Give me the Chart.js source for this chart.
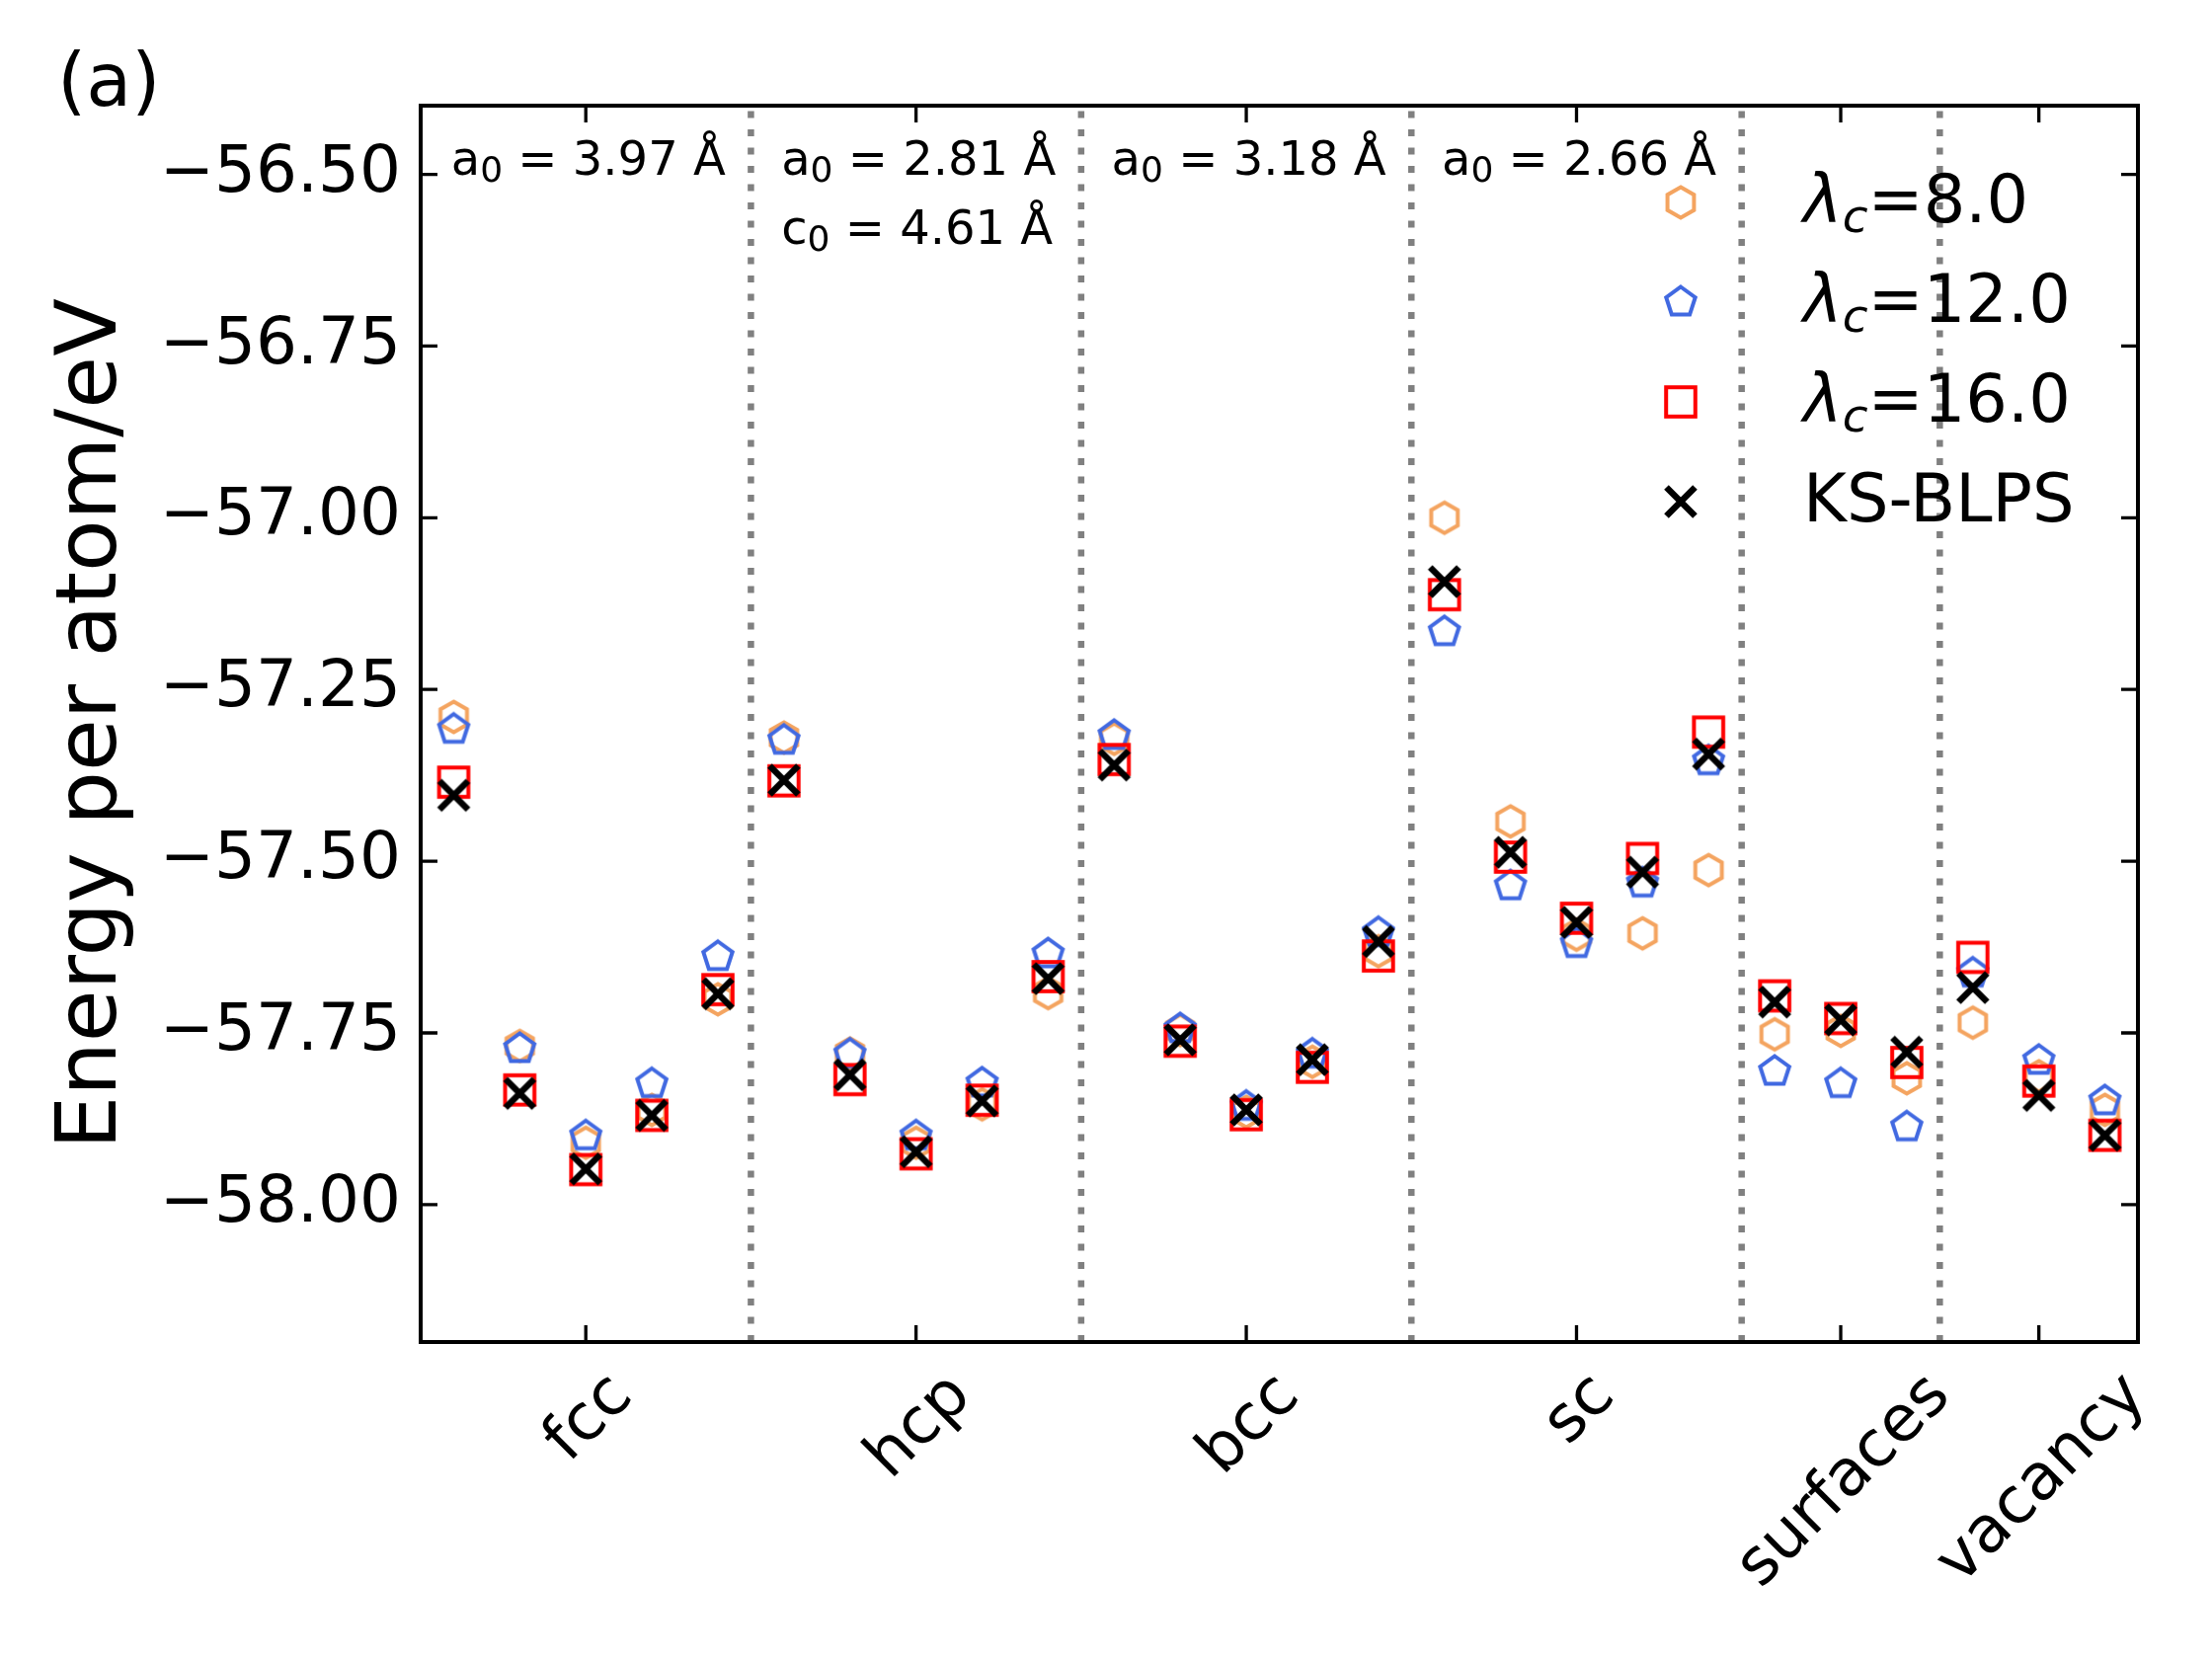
<!DOCTYPE html>
<html>
<head>
<meta charset="utf-8">
<script src="https://cdn.jsdelivr.net/npm/chart.js@4.4.1/dist/chart.umd.min.js"></script>
<style>
    html, body { margin: 0; padding: 0; background: #ffffff; }
    #chart { display: block; }
</style>
</head>
<body>
<canvas id="chart" width="2240" height="1680"></canvas>
<script>
// Категории по оси X и их положения
const structures = ['fcc', 'hcp', 'bcc', 'sc', 'surfaces', 'vacancy'];
const structureTicks = [2, 7, 12, 17, 21, 24];
const dividers = [4.5, 9.5, 14.5, 19.5, 22.5];
const yTicks = [-58.0, -57.75, -57.5, -57.25, -57.0, -56.75, -56.5];

// Параметры решётки над каждой группой
const latticeX = [-0.04, 4.96, 9.96, 14.96];
const latticeA = ['3.97', '2.81', '3.18', '2.66'];
const latticeC = ['', '4.61', '', ''];

// Энергии (эВ) для каждой точки 0..25
const lambda8 = [-57.290, -57.769, -57.910, -57.862, -57.701,
                 -57.320, -57.780, -57.910, -57.854, -57.692,
                 -57.322, -57.746, -57.865, -57.792, -57.631,
                 -57.000, -57.442, -57.607, -57.605, -57.513,
                 -57.752, -57.747, -57.816,
                 -57.735, -57.813, -57.862];
const lambda12 = [-57.308, -57.773, -57.900, -57.824, -57.639,
                  -57.324, -57.781, -57.900, -57.823, -57.635,
                  -57.317, -57.744, -57.857, -57.781, -57.604,
                  -57.166, -57.536, -57.620, -57.532, -57.354,
                  -57.806, -57.824, -57.887,
                  -57.663, -57.790, -57.849];
const lambda16 = [-57.385, -57.833, -57.949, -57.870, -57.687,
                  -57.383, -57.818, -57.926, -57.848, -57.668,
                  -57.352, -57.762, -57.869, -57.800, -57.638,
                  -57.112, -57.494, -57.583, -57.496, -57.312,
                  -57.696, -57.729, -57.793,
                  -57.640, -57.820, -57.899];
const ksBlps = [-57.404, -57.838, -57.948, -57.870, -57.693,
                -57.382, -57.811, -57.923, -57.849, -57.671,
                -57.360, -57.760, -57.862, -57.789, -57.617,
                -57.093, -57.487, -57.589, -57.516, -57.344,
                -57.705, -57.731, -57.778,
                -57.684, -57.841, -57.899];

const FONT = '"DejaVu Sans", "Liberation Sans", sans-serif';

function ToPoints(values)
{
    return values.map((v, i) => ({ x: i, y: v }));
}

function MakeMarker(kind, color)
{
    let c = document.createElement('canvas');
    c.width = 46;
    c.height = 46;
    let ctx = c.getContext('2d');
    ctx.translate(23, 23);
    ctx.strokeStyle = color;
    ctx.lineJoin = 'miter';

    if (kind === 'hexagon' || kind === 'pentagon')
    {
        let n = kind === 'hexagon' ? 6 : 5;
        let r = kind === 'hexagon' ? 15.5 : 15.5;
        ctx.lineWidth = 4;
        ctx.beginPath();
        for (let k = 0; k < n; k++)
        {
            let a = -Math.PI / 2 + k * 2 * Math.PI / n;
            let px = r * Math.cos(a), py = r * Math.sin(a);
            if (k === 0) ctx.moveTo(px, py); else ctx.lineTo(px, py);
        }
        ctx.closePath();
        ctx.stroke();
    }
    else if (kind === 'square')
    {
        ctx.lineWidth = 4;
        ctx.strokeRect(-14.8, -14.8, 29.6, 29.6);
    }
    else
    {
        ctx.lineWidth = 6.5;
        ctx.lineCap = 'butt';
        ctx.beginPath();
        ctx.moveTo(-14.5, -14.5); ctx.lineTo(14.5, 14.5);
        ctx.moveTo(-14.5, 14.5); ctx.lineTo(14.5, -14.5);
        ctx.stroke();
    }
    return c;
}

function DrawParts(ctx, x, y, parts)
{
    // parts: [текст, шрифт, смещение вниз]
    ctx.textAlign = 'left';
    ctx.textBaseline = 'alphabetic';
    for (let p of parts)
    {
        ctx.font = p[1];
        ctx.fillText(p[0], x, y + p[2]);
        x += ctx.measureText(p[0]).width;
    }
}

const decorPlugin = {
    id: 'decor',
    beforeDatasetsDraw(chart)
    {
        const ctx = chart.ctx;
        const area = chart.chartArea;
        const xs = chart.scales.x;
        ctx.save();
        ctx.strokeStyle = '#808080';
        ctx.lineWidth = 6.5;
        ctx.setLineDash([7, 11.5]);
        for (let d of dividers)
        {
            let px = xs.getPixelForValue(d);
            ctx.beginPath();
            ctx.moveTo(px, area.bottom);
            ctx.lineTo(px, area.top);
            ctx.stroke();
        }
        ctx.restore();
    },
    afterDraw(chart)
    {
        const ctx = chart.ctx;
        const area = chart.chartArea;
        const xs = chart.scales.x;
        const ys = chart.scales.y;
        ctx.save();
        ctx.fillStyle = '#000';
        ctx.strokeStyle = '#000';

        // Рамка
        ctx.lineWidth = 4;
        ctx.strokeRect(area.left, area.top, area.right - area.left, area.bottom - area.top);

        // Засечки внутрь
        ctx.lineWidth = 3.3;
        const tl = 17;
        ctx.beginPath();
        for (let v of yTicks)
        {
            let py = ys.getPixelForValue(v);
            ctx.moveTo(area.left, py); ctx.lineTo(area.left + tl, py);
            ctx.moveTo(area.right, py); ctx.lineTo(area.right - tl, py);
        }
        for (let t of structureTicks)
        {
            let px = xs.getPixelForValue(t);
            ctx.moveTo(px, area.bottom); ctx.lineTo(px, area.bottom - tl);
            ctx.moveTo(px, area.top); ctx.lineTo(px, area.top + tl);
        }
        ctx.stroke();

        // Подписи оси X под углом 45°
        const xFont = 65;
        ctx.font = xFont + 'px ' + FONT;
        for (let i = 0; i < structures.length; i++)
        {
            let w = ctx.measureText(structures[i]).width;
            let h = xFont * 1.164;
            let side = (w + h) / Math.SQRT2;
            let cx = xs.getPixelForValue(structureTicks[i]);
            let cy = area.bottom + 14 + side / 2;
            ctx.save();
            ctx.translate(cx, cy);
            ctx.rotate(-Math.PI / 4);
            ctx.textAlign = 'center';
            ctx.textBaseline = 'alphabetic';
            ctx.fillText(structures[i], 0, xFont * 0.346);
            ctx.restore();
        }

        // Подпись оси Y
        ctx.save();
        ctx.translate(117, (area.top + area.bottom) / 2);
        ctx.rotate(-Math.PI / 2);
        ctx.font = '86px ' + FONT;
        ctx.textAlign = 'center';
        ctx.textBaseline = 'alphabetic';
        ctx.fillText('Energy per atom/eV', 0, 0);
        ctx.restore();

        // Метка панели
        ctx.font = '75px ' + FONT;
        ctx.textAlign = 'left';
        ctx.fillText('(a)', 58, 107);

        // Параметры решётки
        for (let i = 0; i < latticeX.length; i++)
        {
            let px = xs.getPixelForValue(latticeX[i]);
            let py = ys.getPixelForValue(-56.5);
            DrawParts(ctx, px, py, [
                ['a', '48px ' + FONT, 0],
                ['0', '36px ' + FONT, 7],
                [' = ' + latticeA[i] + ' Å', '48px ' + FONT, 0]
            ]);
            if (latticeC[i] !== '')
            {
                DrawParts(ctx, px, py + 70, [
                    ['c', '48px ' + FONT, 0],
                    ['0', '36px ' + FONT, 7],
                    [' = ' + latticeC[i] + ' Å', '48px ' + FONT, 0]
                ]);
            }
        }

        // Легенда
        const sets = chart.data.datasets;
        for (let i = 0; i < sets.length; i++)
        {
            let rowY = area.top + 98 + i * 101;
            let mk = sets[i].pointStyle;
            ctx.drawImage(mk, area.right - 463 - mk.width / 2, rowY - mk.height / 2);
            let label = sets[i].label;
            let tx = area.right - 339;
            if (label.charAt(0) === 'λ')
            {
                DrawParts(ctx, tx, rowY + 20, [
                    ['λ', 'italic 67px ' + FONT, 0],
                    ['c', 'italic 47px ' + FONT, 10],
                    [label.slice(2), '67px ' + FONT, 0]
                ]);
            }
            else
            {
                DrawParts(ctx, tx, rowY + 20, [[label, '67px ' + FONT, 0]]);
            }
        }
        ctx.restore();
    }
};

function InitChart()
{
    let chart = document.getElementById('chart').getContext('2d');

    new Chart(chart, {
        type: 'scatter',
        data: {
            datasets: [
                {
                    label: 'λc=8.0',
                    data: ToPoints(lambda8),
                    pointStyle: MakeMarker('hexagon', '#F4A460'),
                    pointRadius: 16,
                    order: 4
                },
                {
                    label: 'λc=12.0',
                    data: ToPoints(lambda12),
                    pointStyle: MakeMarker('pentagon', '#4169E1'),
                    pointRadius: 16,
                    order: 3
                },
                {
                    label: 'λc=16.0',
                    data: ToPoints(lambda16),
                    pointStyle: MakeMarker('square', '#FF0000'),
                    pointRadius: 16,
                    order: 2
                },
                {
                    label: 'KS-BLPS',
                    data: ToPoints(ksBlps),
                    pointStyle: MakeMarker('cross', '#000000'),
                    pointRadius: 16,
                    order: 1
                }
            ]
        },
        options: {
            responsive: false,
            devicePixelRatio: 1,
            animation: false,
            events: [],
            layout: {
                padding: { left: 0, right: 75, top: 107, bottom: 321 }
            },
            plugins: {
                legend: { display: false },
                tooltip: { enabled: false }
            },
            scales: {
                x: {
                    type: 'linear',
                    display: false,
                    min: -0.5,
                    max: 25.5
                },
                y: {
                    type: 'linear',
                    min: -58.2,
                    max: -56.4,
                    border: { display: false },
                    grid: { display: false, drawTicks: false, tickLength: 0 },
                    afterBuildTicks: s => { s.ticks = yTicks.map(v => ({ value: v })); },
                    afterFit: s => { s.width = 426; },
                    ticks: {
                        padding: 20,
                        color: '#000',
                        font: { family: FONT, size: 66 },
                        callback: v => '\u2212' + Math.abs(v).toFixed(2)
                    }
                }
            }
        },
        plugins: [decorPlugin]
    });
}

InitChart();
</script>
</body>
</html>
